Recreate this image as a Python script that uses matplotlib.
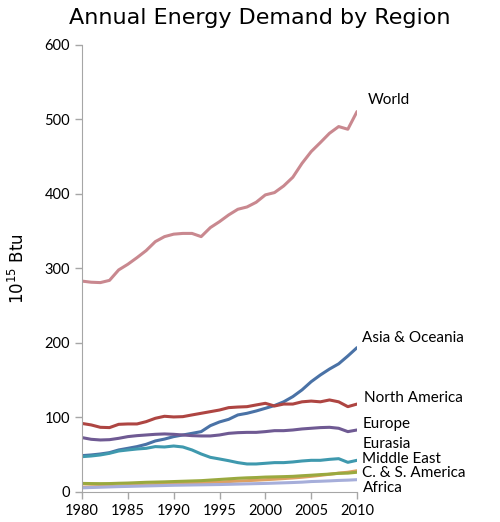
import matplotlib
matplotlib.use('Agg')
import matplotlib.pyplot as plt
import numpy as np

# Years and regional energy demand (10^15 Btu)
years = np.arange(1980, 2011)

world = [283, 281.5, 281, 284, 298, 305.6, 314.5, 324, 336, 342.7,
         346, 347, 347, 342.7, 354.8, 362.8, 371.8, 379.4, 382.5, 388.8,
         398.7, 401.8, 410.7, 422.4, 441, 456.8, 468.9, 481.4, 490.4, 486.8,
         510.5]
asia = [48.8, 49.7, 51, 52.8, 56.4, 58.6, 60.9, 64, 68.5, 71,
        74.3, 76.5, 78.7, 81, 89, 94, 97.5, 103.4, 105.6, 108.7,
        112.3, 116, 121, 128, 137, 148, 157, 165, 172, 182.5,
        193.7]
north_america = [92, 90, 86.8, 86.4, 90.8, 91.3, 91.3, 94.4, 98.9, 101.6,
                 100.7, 101.1, 103.4, 105.6, 107.8, 110, 113.2, 114, 114.5, 116.8,
                 119, 115.4, 118, 118, 121, 122, 121, 123.5, 121, 114.5,
                 118]
europe = [73, 70.7, 69.8, 70.2, 72, 74.3, 75.6, 76.5, 77.4, 77.9,
          77.4, 76.5, 75.6, 75.2, 75.2, 76.5, 78.7, 79.6, 80, 80,
          81, 82.3, 82.3, 83.2, 84.6, 85.5, 86.4, 86.8, 85.5, 81,
          83.2]
eurasia = [47.4, 48.3, 49.7, 51.9, 55, 56.4, 57.7, 58.6, 60.9, 60.4,
           61.7, 60.4, 56.4, 51, 46.5, 44.3, 42, 39.4, 37.6, 37.6,
           38.5, 39.4, 39.4, 40.3, 41.6, 42.5, 42.5, 43.8, 44.7, 39.8,
           42.5]
middle_east = [6.5, 7, 7.4, 7.8, 8.2, 8.6, 9, 9.5, 10, 10.5,
               11, 11.4, 11.8, 12.3, 12.8, 13.3, 14, 14.6, 15.2, 15.8,
               16.5, 17.2, 18, 18.8, 19.8, 21, 22.3, 23.8, 25.3, 26.5,
               28.5]
cs_america = [11.5, 11.3, 11.2, 11.3, 11.7, 12, 12.5, 13, 13.3, 13.6,
              14, 14.4, 14.8, 15.2, 16, 16.8, 17.6, 18.4, 19, 19.4,
              20, 20.3, 20.6, 21, 21.8, 22.5, 23.3, 24, 25, 25.3,
              26.5]
africa = [5.5, 6, 6.4, 6.8, 7.2, 7.5, 7.8, 8.1, 8.4, 8.7,
          9, 9.2, 9.4, 9.6, 9.8, 10, 10.3, 10.6, 10.9, 11.2,
          11.5, 11.9, 12.3, 12.7, 13.2, 14, 14.4, 14.9, 15.5, 15.9,
          16.5]

regions = ['World', 'Asia & Oceania', 'North America', 'Europe',
           'Eurasia', 'Middle East', 'C. & S. America', 'Africa']
series = [world, asia, north_america, europe, eurasia, middle_east,
          cs_america, africa]
colors = ['#C9888F', '#4A72A6', '#AE4542', '#6F5A93', '#3F99AE',
          '#DDA063', '#9AA93F', '#A6AEDA']
# label anchor points (year, value) to the right of the plot
label_pos = [(2011.2, 526), (2010.6, 207), (2010.8, 126), (2010.6, 91),
             (2010.6, 64), (2010.6, 44), (2010.6, 26), (2010.6, 5)]

fig = plt.figure(figsize=(5, 5.22), dpi=100)
ax = fig.add_axes([0.164, 0.0575, 0.55, 0.8565])

for vals, c in zip(series, colors):
    ax.plot(years, vals, color=c, linewidth=2.2, solid_capstyle='round')

for name, (lx, ly) in zip(regions, label_pos):
    ax.text(lx, ly, name, fontsize=11, family='Lato', va='center',
            ha='left', clip_on=False)

ax.set_xlim(1980, 2010)
ax.set_ylim(0, 600)
ax.set_xticks(range(1980, 2011, 5))
ax.set_yticks(range(0, 601, 100))

for s in ['top', 'right']:
    ax.spines[s].set_visible(False)
for s in ['left', 'bottom']:
    ax.spines[s].set_color('#A6A6A6')
ax.tick_params(colors='#A6A6A6', labelcolor='black', length=5, width=1)
for lbl in ax.get_xticklabels() + ax.get_yticklabels():
    lbl.set_family('Lato')
    lbl.set_fontsize(10.5)

ax.set_ylabel('10$^{15}$ Btu', fontsize=12, labelpad=12)
fig.text(0.52, 0.965, 'Annual Energy Demand by Region', fontsize=16,
         ha='center', va='center')

fig.savefig('out.png', dpi=100)
